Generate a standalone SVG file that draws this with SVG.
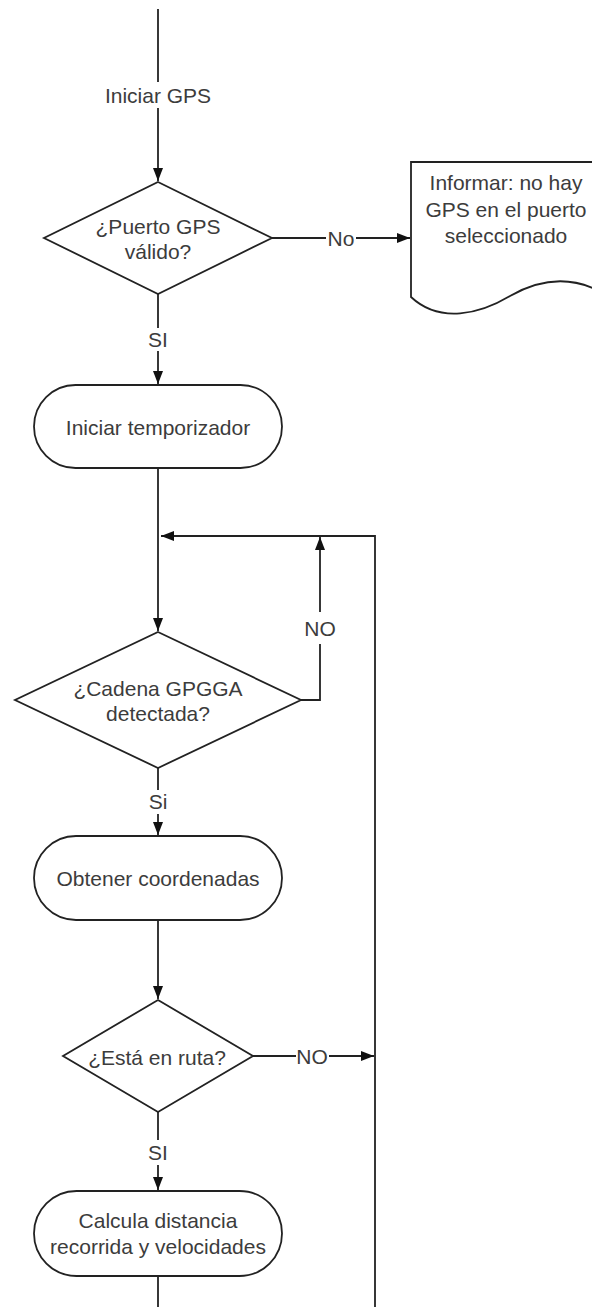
<svg xmlns="http://www.w3.org/2000/svg" width="592" height="1307" viewBox="0 0 592 1307">
<style>
.shape{fill:#fff;stroke:#222;stroke-width:1.8}
.ln{fill:none;stroke:#222;stroke-width:1.8}
text{font-family:"Liberation Sans",Arial,sans-serif;font-size:21px;fill:#3c3c3c;text-anchor:middle;dominant-baseline:central}
</style>
<defs>
<marker id="ah" viewBox="0 0 13 10" refX="13" refY="5" markerWidth="13" markerHeight="10" markerUnits="userSpaceOnUse" orient="auto">
<path d="M0,0 L13,5 L0,10 z" fill="#111"/>
</marker>
</defs>
<rect width="592" height="1307" fill="#fff"/>
<g id="connectors">
<line class="ln" x1="158" y1="9" x2="158" y2="82"/>
<line class="ln" x1="158" y1="108" x2="158" y2="181" marker-end="url(#ah)"/>
<text x="158" y="95">Iniciar GPS</text>
<line class="ln" x1="272" y1="238" x2="326" y2="238"/>
<line class="ln" x1="356" y1="238" x2="410" y2="238" marker-end="url(#ah)"/>
<text x="341" y="238">No</text>
<line class="ln" x1="158" y1="294" x2="158" y2="328"/>
<line class="ln" x1="158" y1="351" x2="158" y2="384" marker-end="url(#ah)"/>
<text x="158" y="339">SI</text>
<line class="ln" x1="158" y1="468" x2="158" y2="631" marker-end="url(#ah)"/>
<polyline class="ln" points="375,1307 375,536 161,536" marker-end="url(#ah)"/>
<polyline class="ln" points="301,700 320,700 320,644"/>
<line class="ln" x1="320" y1="612" x2="320" y2="537" marker-end="url(#ah)"/>
<text x="320" y="628">NO</text>
<line class="ln" x1="158" y1="768" x2="158" y2="790"/>
<line class="ln" x1="158" y1="814" x2="158" y2="835" marker-end="url(#ah)"/>
<text x="158" y="801">Si</text>
<line class="ln" x1="158" y1="920" x2="158" y2="999" marker-end="url(#ah)"/>
<line class="ln" x1="253" y1="1056" x2="296" y2="1056"/>
<line class="ln" x1="329" y1="1056" x2="374" y2="1056" marker-end="url(#ah)"/>
<text x="312" y="1056">NO</text>
<line class="ln" x1="158" y1="1112" x2="158" y2="1140"/>
<line class="ln" x1="158" y1="1165" x2="158" y2="1190" marker-end="url(#ah)"/>
<text x="158" y="1152">SI</text>
<line class="ln" x1="158" y1="1276" x2="158" y2="1307"/>
</g>
<g id="d1">
<polygon class="shape" points="158,182 272,238 158,294 44,238"/>
<text x="158" y="226">¿Puerto GPS</text>
<text x="158" y="251">válido?</text>
</g>
<g id="doc">
<path class="shape" d="M411,297 V162 H601 V292 C575,278 545,276 510,296 C480,314 440,324 411,297 z"/>
<text x="506" y="182">Informar: no hay</text>
<text x="506" y="209">GPS en el puerto</text>
<text x="506" y="235">seleccionado</text>
</g>
<g id="t1">
<rect class="shape" x="34" y="385" width="248" height="83" rx="41.5"/>
<text x="158" y="427">Iniciar temporizador</text>
</g>
<g id="d2">
<polygon class="shape" points="158,632 301,700 158,768 15,700"/>
<text x="158" y="688">¿Cadena GPGGA</text>
<text x="158" y="713">detectada?</text>
</g>
<g id="t2">
<rect class="shape" x="34" y="836" width="248" height="84" rx="42"/>
<text x="158" y="878">Obtener coordenadas</text>
</g>
<g id="d3">
<polygon class="shape" points="158,1000 253,1056 158,1112 63,1056"/>
<text x="157" y="1057">¿Está en ruta?</text>
</g>
<g id="t3">
<rect class="shape" x="34" y="1191" width="248" height="85" rx="42.5"/>
<text x="158" y="1220">Calcula distancia</text>
<text x="158" y="1246">recorrida y velocidades</text>
</g>
</svg>
